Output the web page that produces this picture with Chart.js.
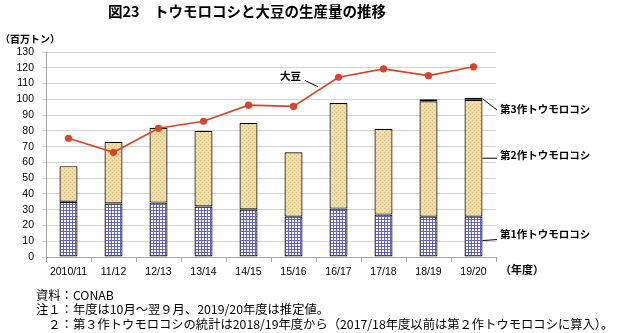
<!DOCTYPE html>
<html><head><meta charset="utf-8">
<script src="https://cdn.jsdelivr.net/npm/chart.js@4.4.1/dist/chart.umd.min.js"></script>
<style>
html,body{margin:0;padding:0;background:#fff;}
#wrap{position:relative;width:618px;height:333px;overflow:hidden;font-family:"Noto Sans CJK JP",sans-serif;color:#000;}
#c{position:absolute;left:0;top:0;}
.t{position:absolute;white-space:nowrap;line-height:1;}
</style></head><body>
<div id="wrap">
<canvas id="c" width="618" height="333"></canvas>
<div class="t" style="left:108px;top:4px;font-size:14.5px;font-weight:bold;">図23　トウモロコシと大豆の生産量の推移</div>
<div class="t" style="left:0px;top:34px;font-size:10px;font-weight:bold;">（百万トン）</div>
<div class="t" style="left:500px;top:264px;font-size:11px;font-weight:bold;">（年度）</div>
<div class="t" style="left:280px;top:71px;font-size:10.5px;font-weight:bold;">大豆</div>
<div class="t" style="left:500px;top:104px;font-size:10.5px;font-weight:bold;">第3作トウモロコシ</div>
<div class="t" style="left:500px;top:150px;font-size:10.5px;font-weight:bold;">第2作トウモロコシ</div>
<div class="t" style="left:500px;top:229px;font-size:10.5px;font-weight:bold;">第1作トウモロコシ</div>
<div class="t" style="left:36px;top:289px;font-size:12.3px;">資料：CONAB</div>
<div class="t" style="left:36px;top:303px;font-size:12.3px;">注１：年度は10月～翌９月、2019/20年度は推定値。</div>
<div class="t" style="left:36px;top:318px;font-size:12.3px;">　２：第３作トウモロコシの統計は2018/19年度から（2017/18年度以前は第２作トウモロコシに算入）。</div>
</div>
<script>
const categories = ["2010/11","11/12","12/13","13/14","14/15","15/16","16/17","17/18","18/19","19/20"];
const corn1 = [35.0, 33.9, 34.5, 32.0, 30.1, 25.6, 30.7, 26.9, 25.6, 25.6];
const corn2 = [22.6, 39.1, 47.4, 48.0, 54.8, 40.8, 66.9, 54.4, 73.1, 74.1];
const corn3 = [null, null, null, null, null, null, null, null, 1.4, 1.3];
const soybean = [75.3, 66.4, 81.6, 86.1, 96.3, 95.5, 114.0, 119.3, 115.0, 120.6];
const yTicks = {min: 0, max: 130, step: 10};

function makePattern(w, h, draw) {
  const c = document.createElement('canvas'); c.width = w; c.height = h;
  const x = c.getContext('2d'); draw(x);
  return x.createPattern(c, 'repeat');
}
const gridPat = makePattern(3, 3, x => {
  x.fillStyle = '#ffffff'; x.fillRect(0,0,3,3);
  x.fillStyle = '#6464b4'; x.fillRect(0,0,3,1); x.fillRect(0,0,1,3);
});
const dotPat = makePattern(4, 4, x => {
  x.fillStyle = '#f8d9a0'; x.fillRect(0,0,4,4);
  x.fillStyle = '#e6b872'; x.fillRect(0,0,1,1); x.fillRect(2,2,1,1);
  x.fillStyle = '#fbe6c0'; x.fillRect(2,0,1,1); x.fillRect(0,2,1,1);
});

const leaders = {
  id: 'leaders',
  afterDatasetsDraw(chart) {
    const ctx = chart.ctx;
    const last = categories.length - 1;
    const b1 = chart.getDatasetMeta(0).data[last];
    const b2 = chart.getDatasetMeta(1).data[last];
    const b3 = chart.getDatasetMeta(2).data[last];
    const yS = chart.scales.y, xS = chart.scales.x;
    ctx.save();
    ctx.strokeStyle = '#000'; ctx.lineWidth = 1;
    const r = b1.x + b1.width / 2;
    const seg = (x1,y1,x2,y2) => { ctx.beginPath(); ctx.moveTo(x1,y1); ctx.lineTo(x2,y2); ctx.stroke(); };
    seg(r, b3.y + 1, 497, 110);
    seg(r, (b2.y + b2.base) / 2, 497, (b2.y + b2.base) / 2);
    seg(r, (b1.y + b1.base) / 2 + 4, 497, (b1.y + b1.base) / 2 + 3);
    const px = (xS.getPixelForValue(5) + xS.getPixelForValue(6)) / 2;
    const py = (yS.getPixelForValue(soybean[5]) + yS.getPixelForValue(soybean[6])) / 2;
    seg(305, 80.5, px + 2, py - 5);
    ctx.restore();
  }
};

new Chart(document.getElementById('c'), {
  data: {
    labels: categories,
    datasets: [
      {type:'bar', label:'第1作トウモロコシ', data: corn1, backgroundColor: gridPat, borderColor:'#000', borderWidth:1.2, borderSkipped:false, stack:'corn', order:2},
      {type:'bar', label:'第2作トウモロコシ', data: corn2, backgroundColor: dotPat, borderColor:'#000', borderWidth:1.2, borderSkipped:false, stack:'corn', order:2},
      {type:'bar', label:'第3作トウモロコシ', data: corn3, backgroundColor: '#ffffff', borderColor:'#000', borderWidth:1.2, borderSkipped:false, stack:'corn', order:2},
      {type:'line', label:'大豆', data: soybean, borderColor:'#d2472a', backgroundColor:'#d2472a', borderWidth:1.6, pointRadius:3.6, pointHoverRadius:3.6, pointBackgroundColor:'#d2472a', pointBorderWidth:0, tension:0, order:0}
    ]
  },
  options: {
    responsive:false, animation:false,
    layout:{padding:{top:52, right:122, bottom:0, left:0}},
    plugins:{legend:{display:false}, tooltip:{enabled:false}, title:{display:false}},
    datasets:{bar:{barPercentage:0.4, categoryPercentage:1.0}},
    scales:{
      x:{stacked:true, offset:true,
        grid:{offset:true, drawOnChartArea:false, drawTicks:true, tickLength:5, color:'#a6a6a6'},
        border:{color:'#a6a6a6'},
        ticks:{color:'#000', font:{family:'"Liberation Sans", Arial', size:10.5}, padding:4, maxRotation:0, autoSkip:false},
        afterFit(s){ s.height = 76; }
      },
      y:{stacked:true, min:yTicks.min, max:yTicks.max,
        grid:{color:'#d4d4d4', tickLength:4, drawTicks:true},
        border:{color:'#a6a6a6'},
        ticks:{stepSize:yTicks.step, color:'#000', font:{family:'"Liberation Sans", Arial', size:10.5}, padding:8},
        afterFit(s){ s.width = 46; }
      }
    }
  },
  plugins:[leaders]
});
</script>
</body></html>
